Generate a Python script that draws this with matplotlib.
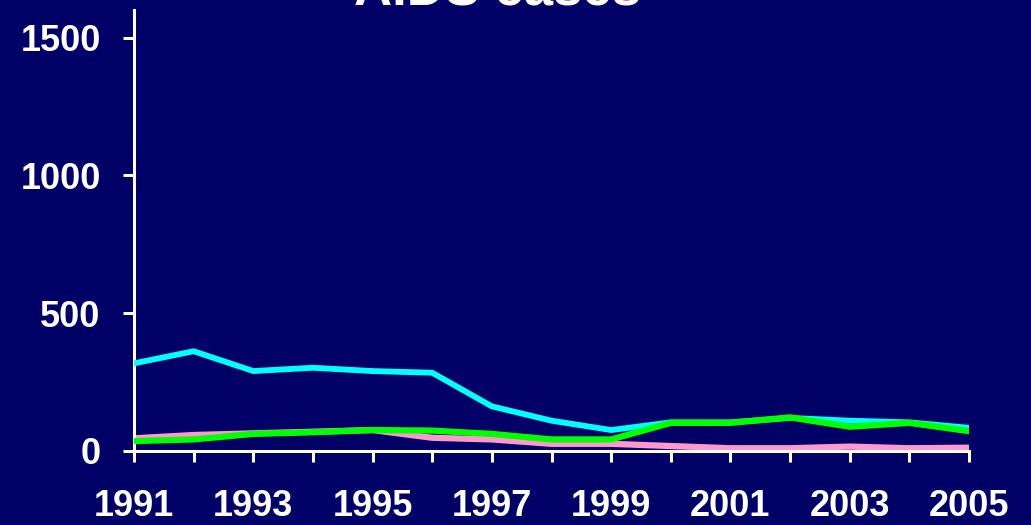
import matplotlib
matplotlib.use("Agg")
import matplotlib.pyplot as plt

years = list(range(1991, 2006))
cyan_series = [318, 362, 290, 302, 290, 284, 162, 110, 76, 104, 104, 120, 110, 104, 84]
pink_series = [46, 58, 64, 70, 76, 48, 42, 26, 26, 18, 10, 10, 16, 10, 12]
green_series = [36, 42, 62, 68, 76, 74, 62, 42, 42, 102, 102, 122, 88, 102, 72]
ytick_vals = [0, 500, 1000, 1500]
title = "AIDS cases"

bg = "#000066"
plt.rcParams['font.family'] = ['Liberation Sans', 'DejaVu Sans']
plt.rcParams['font.weight'] = 'bold'

fig = plt.figure(figsize=(10.31, 5.25), dpi=100, facecolor=bg)
ax = fig.add_axes([134/1031, (525-451)/525, (969-134)/1031, (451-10)/525])
ax.set_facecolor(bg)

ax.plot(years, pink_series, color="#FF99CC", lw=4.5, zorder=2, solid_capstyle='round')
ax.plot(years, cyan_series, color="#00FFFF", lw=4.2, zorder=3, solid_capstyle='round')
ax.plot(years, green_series, color="#00FF00", lw=4.5, zorder=4, solid_capstyle='round')

ax.set_xlim(1991, 2005)
ax.set_ylim(0, 1600)
ax.set_xticks(years)
ax.set_xticklabels([str(y) if (y - 1991) % 2 == 0 else "" for y in years])
ax.set_yticks(ytick_vals)
ax.set_yticklabels([str(v) for v in ytick_vals])

for s in ['top', 'right']:
    ax.spines[s].set_visible(False)
for s in ['left', 'bottom']:
    ax.spines[s].set_color('white')
    ax.spines[s].set_linewidth(2.2)

ax.tick_params(axis='both', colors='white', labelsize=26, width=2.2, length=8, direction='out')
ax.tick_params(axis='x', pad=19)
ax.tick_params(axis='y', pad=16)
for lab in ax.get_xticklabels() + ax.get_yticklabels():
    lab.set_fontweight('bold')

fig.text(498/1031, 1 - 5/525, title, ha='center', va='baseline', color='white',
         fontsize=38, fontweight='bold')

fig.savefig("out.png", dpi=100, facecolor=bg)
